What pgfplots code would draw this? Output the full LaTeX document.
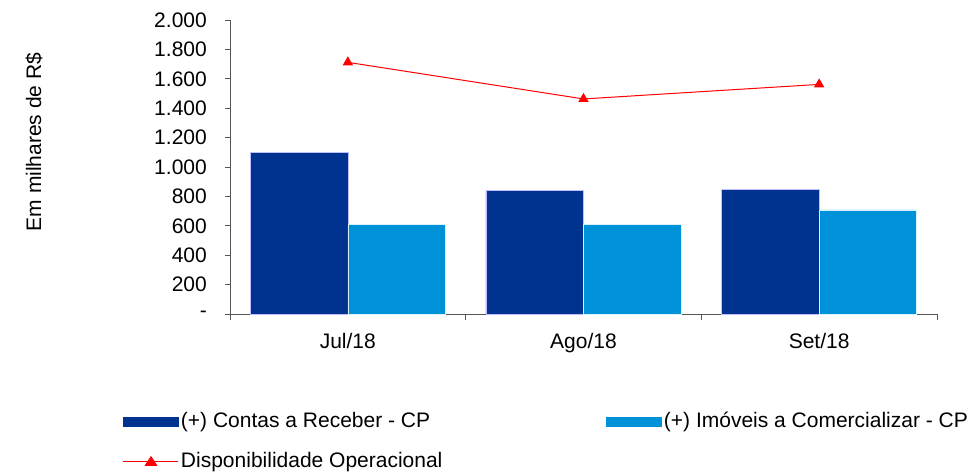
\documentclass[border=0pt]{standalone}
\usepackage{fontspec}
\setmainfont{Liberation Sans}
\usepackage{pgfplots}
\pgfplotsset{compat=1.18}
\definecolor{darkbar}{HTML}{00338F}
\definecolor{lightbar}{HTML}{0092D9}
\definecolor{axisgray}{HTML}{555555}
\begin{document}
\fontsize{21bp}{25bp}\selectfont
\begin{tikzpicture}
\useasboundingbox (-230bp,-160bp) rectangle (739bp,314bp);
\begin{axis}[
  scale only axis,
  width=707bp, height=294bp,
  xmin=-0.5, xmax=2.5, ymin=0, ymax=2000,
  axis lines=left,
  axis line style={-, axisgray, line width=0.8bp},
  ytick={0,200,...,2000},
  yticklabels={{-\hspace{4bp}},200,400,600,800,1.000,1.200,1.400,1.600,1.800,2.000},
  xtick={0,1,2},
  xticklabels={Jul/18,Ago/18,Set/18},
  minor xtick={-0.5,0.5,1.5,2.5},
  major x tick style={draw=none},
  minor x tick style={axisgray, line width=0.8bp},
  major y tick style={axisgray, line width=0.8bp},
  tick align=outside,
  major tick length=5bp,
  minor tick length=6bp,
  /pgf/number format/assume math mode=true,
  tick label style={font=\fontsize{21bp}{25bp}\selectfont},
  yticklabel style={inner sep=0pt, xshift=-18bp},
  xticklabel style={inner sep=0pt, yshift=-14bp},
  every axis y label/.style={at={(axis description cs:-0.2772,0.585)}, rotate=90, anchor=center},
  ylabel={Em milhares de R\$},
  label style={font=\fontsize{21bp}{25bp}\selectfont},
  legend columns=2,
  legend cell align=left,
  legend style={draw=none, fill=none, inner sep=0pt, outer sep=0pt,
    at={(axis description cs:0,0)}, anchor=north west, xshift=-107bp, yshift=-96bp,
    font=\fontsize{21bp}{25bp}\selectfont, row sep=18bp,
    /tikz/column 2/.style={column sep=162bp}},
]
\addplot[ybar, bar width=97.5bp, bar shift=-48.75bp, fill=darkbar, draw=blue!25!white, line width=0.5bp,
  legend image code/.code={\fill[darkbar] (0bp,-4.5bp) rectangle (55bp,4.5bp);}]
  coordinates {(0,1097) (1,841) (2,848)};
\addlegendentry{(+) Contas a Receber - CP}
\addplot[ybar, bar width=97.5bp, bar shift=48.75bp, fill=lightbar, draw=cyan!15!white, line width=0.5bp,
  legend image code/.code={\fill[lightbar] (0bp,-4.5bp) rectangle (55bp,4.5bp);}]
  coordinates {(0,612) (1,612) (2,709)};
\addlegendentry{(+) Imóveis a Comercializar - CP}
\addplot[red, line width=1bp, mark=triangle*, mark size=5bp, mark options={fill=red, draw=red},
  legend image code/.code={\draw[red, line width=1bp] (0bp,0bp) -- (55bp,0bp);
     \fill[red] (27.5bp,5bp) -- (22bp,-3.5bp) -- (33bp,-3.5bp) -- cycle;}]
  coordinates {(0,1712) (1,1463) (2,1562)};
\addlegendentry{Disponibilidade Operacional}
\end{axis}
\end{tikzpicture}
\end{document}
